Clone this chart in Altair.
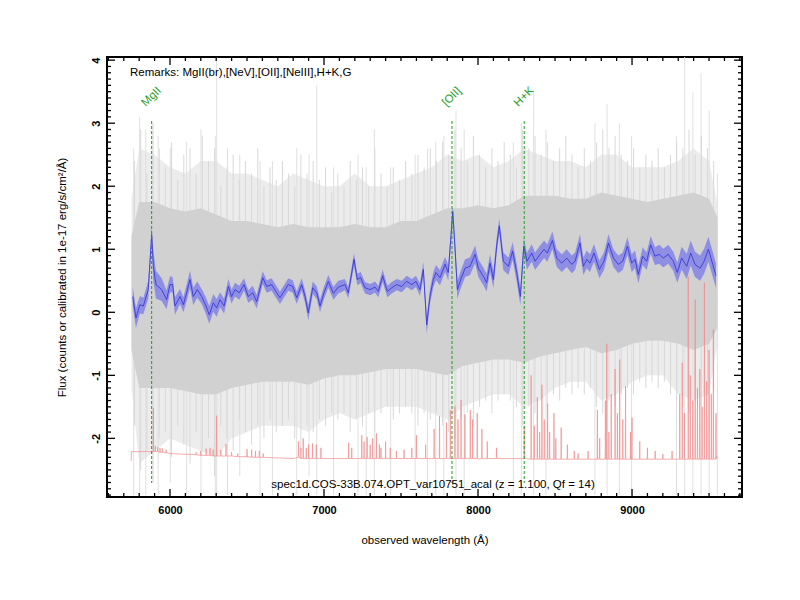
import altair as alt
import pandas as pd

# ---------------- data ----------------
# smoothed spectrum (blue line) and its 1-sigma band half-width
blue_wave = [
    5758, 5779, 5805, 5827, 5859, 5881, 5892, 5909, 5946, 5978,
    6000, 6017, 6032, 6065, 6087, 6108, 6130, 6151, 6177, 6206,
    6234, 6255, 6281, 6303, 6325, 6351, 6379, 6400, 6422, 6450,
    6481, 6508, 6537, 6563, 6602, 6628, 6660, 6688, 6714, 6740,
    6768, 6797, 6823, 6855, 6877, 6898, 6927, 6953, 6974, 7000,
    7028, 7061, 7093, 7136, 7158, 7195, 7216, 7238, 7266, 7299,
    7331, 7353, 7381, 7411, 7440, 7472, 7505, 7537, 7570, 7597,
    7623, 7645, 7667, 7688, 7710, 7727, 7753, 7786, 7807, 7836,
    7851, 7866, 7888, 7916, 7948, 7981, 8002, 8035, 8056, 8078,
    8100, 8121, 8138, 8164, 8197, 8225, 8251, 8275, 8297, 8318,
    8349, 8370, 8403, 8429, 8450, 8483, 8511, 8544, 8576, 8609,
    8630, 8662, 8684, 8706, 8727, 8753, 8788, 8818, 8847, 8879,
    8911, 8940, 8970, 8998, 9019, 9041, 9069, 9095, 9121, 9149,
    9177, 9203, 9235, 9268, 9294, 9322, 9355, 9381, 9409, 9442,
    9468, 9496, 9524, 9545]
blue_flux = [
    0.25, -0.09, 0.12, 0.10, 0.36, 1.23, 0.73, 0.44, 0.36, 0.20,
    0.44, 0.44, 0.10, 0.25, 0.12, 0.31, 0.52, 0.25, 0.36, 0.25,
    0.10, -0.04, 0.15, 0.07, 0.20, 0.10, 0.41, 0.25, 0.36, 0.31,
    0.44, 0.25, 0.31, 0.17, 0.55, 0.41, 0.44, 0.33, 0.23, 0.33,
    0.44, 0.41, 0.23, 0.44, 0.25, -0.01, 0.39, 0.31, 0.10, 0.31,
    0.49, 0.30, 0.40, 0.44, 0.31, 0.84, 0.52, 0.55, 0.39, 0.36,
    0.40, 0.33, 0.58, 0.33, 0.39, 0.44, 0.41, 0.49, 0.44, 0.49,
    0.36, 0.68, -0.20, 0.25, 0.52, 0.63, 0.55, 0.76, 0.63, 1.60,
    1.00, 0.36, 0.52, 0.70, 0.73, 0.92, 0.70, 0.57, 0.47, 0.78,
    0.52, 1.05, 1.37, 0.81, 0.73, 0.97, 0.63, 0.25, 1.05, 0.81,
    0.94, 0.81, 0.92, 1.00, 0.94, 1.14, 0.86, 0.78, 0.86, 0.76,
    0.81, 1.10, 0.73, 0.84, 0.78, 0.94, 0.68, 0.81, 1.10, 0.86,
    0.76, 0.81, 1.05, 0.78, 0.84, 0.60, 0.89, 0.81, 1.07, 0.89,
    0.92, 0.86, 0.92, 0.81, 0.63, 0.86, 0.73, 0.94, 0.76, 0.70,
    0.81, 1.00, 0.76, 0.58]
blue_err = [
    0.15, 0.16, 0.14, 0.13, 0.14, 0.12, 0.25, 0.22, 0.18, 0.15,
    0.13, 0.12, 0.14, 0.12, 0.12, 0.13, 0.14, 0.14, 0.13, 0.12,
    0.13, 0.14, 0.14, 0.14, 0.12, 0.12, 0.12, 0.11, 0.11, 0.11,
    0.10, 0.10, 0.11, 0.11, 0.10, 0.10, 0.10, 0.10, 0.10, 0.10,
    0.10, 0.10, 0.10, 0.10, 0.10, 0.12, 0.10, 0.10, 0.10, 0.10,
    0.10, 0.10, 0.10, 0.09, 0.09, 0.10, 0.09, 0.09, 0.09, 0.09,
    0.09, 0.09, 0.10, 0.09, 0.09, 0.09, 0.09, 0.09, 0.09, 0.09,
    0.10, 0.12, 0.14, 0.12, 0.12, 0.12, 0.12, 0.12, 0.12, 0.10,
    0.15, 0.14, 0.14, 0.14, 0.14, 0.14, 0.14, 0.14, 0.14, 0.14,
    0.14, 0.12, 0.12, 0.14, 0.14, 0.14, 0.14, 0.14, 0.13, 0.13,
    0.14, 0.14, 0.14, 0.14, 0.14, 0.14, 0.14, 0.14, 0.14, 0.14,
    0.14, 0.14, 0.14, 0.14, 0.14, 0.14, 0.14, 0.14, 0.14, 0.14,
    0.14, 0.14, 0.14, 0.14, 0.14, 0.14, 0.14, 0.14, 0.14, 0.14,
    0.15, 0.15, 0.15, 0.15, 0.16, 0.18, 0.20, 0.20, 0.20, 0.20,
    0.20, 0.20, 0.20, 0.20]

# raw spectrum noise envelopes (grey): outer (light) and dense (darker)
grey_wave = [5750, 5800, 5900, 6000, 6100, 6200, 6300, 6400, 6500, 6600,
             6700, 6800, 6900, 7000, 7100, 7200, 7300, 7400, 7500, 7600,
             7700, 7800, 7900, 8000, 8100, 8200, 8300, 8400, 8500, 8600,
             8700, 8800, 8900, 9000, 9100, 9200, 9300, 9400, 9500, 9555]
grey_out_lo = [-1.2, -2.4, -2.2, -2.0, -2.1, -2.2, -2.3, -2.0, -1.9, -1.8,
               -1.8, -1.8, -1.9, -1.7, -1.6, -1.7, -1.6, -1.5, -1.5, -1.5,
               -1.6, -1.7, -1.5, -1.4, -1.3, -1.3, -1.5, -1.4, -1.2, -1.1,
               -1.1, -1.4, -1.3, -1.1, -1.0, -1.0, -1.3, -1.4, -1.3, -0.5]
grey_out_hi = [1.8, 2.6, 2.5, 2.3, 2.2, 2.4, 2.4, 2.2, 2.2, 2.1,
               2.0, 2.2, 2.1, 2.0, 2.0, 2.2, 2.0, 2.0, 2.1, 2.2,
               2.3, 2.5, 2.4, 2.5, 2.3, 2.4, 2.6, 2.5, 2.4, 2.4,
               2.3, 2.5, 2.5, 2.3, 2.3, 2.3, 2.4, 2.6, 2.4, 1.7]
grey_in_lo = [-0.6, -1.2, -1.2, -1.2, -1.25, -1.3, -1.3, -1.2, -1.15, -1.1,
              -1.1, -1.1, -1.15, -1.05, -1.0, -1.0, -0.95, -0.9, -0.9, -0.9,
              -0.95, -1.0, -0.85, -0.8, -0.75, -0.75, -0.8, -0.7, -0.65, -0.6,
              -0.55, -0.65, -0.6, -0.5, -0.45, -0.45, -0.5, -0.6, -0.5, -0.25]
grey_in_hi = [1.2, 1.75, 1.75, 1.65, 1.6, 1.65, 1.55, 1.45, 1.45, 1.4,
              1.35, 1.4, 1.35, 1.35, 1.35, 1.4, 1.35, 1.35, 1.45, 1.45,
              1.55, 1.65, 1.65, 1.7, 1.65, 1.7, 1.85, 1.85, 1.85, 1.8,
              1.8, 1.9, 1.85, 1.8, 1.75, 1.8, 1.85, 1.9, 1.8, 1.5]

# raw-spectrum pixel excursions (grey hatching), read roughly every 40 A
hatch_wave = [5770, 5810, 5850, 5890, 5930, 5970, 6010, 6050, 6090, 6130,
              6170, 6210, 6250, 6290, 6330, 6370, 6410, 6450, 6490, 6530,
              6570, 6610, 6650, 6690, 6730, 6770, 6810, 6850, 6890, 6930,
              6970, 7010, 7050, 7090, 7130, 7170, 7210, 7250, 7290, 7330,
              7370, 7410, 7450, 7490, 7530, 7570, 7610, 7650, 7690, 7730,
              7770, 7810, 7850, 7890, 7930, 7970, 8010, 8050, 8090, 8130,
              8170, 8210, 8250, 8290, 8330, 8370, 8410, 8450, 8490, 8530,
              8570, 8610, 8650, 8690, 8730, 8770, 8810, 8850, 8890, 8930,
              8970, 9010, 9050, 9090, 9130, 9170, 9210, 9250, 9290, 9330,
              9370, 9410, 9450, 9490, 9530]
hatch_hi = [2.4, 2.9, 2.2, 3.0, 2.6, 2.3, 2.7, 2.1, 2.5, 2.6,
            2.2, 2.8, 2.4, 2.6, 2.0, 2.3, 2.5, 2.1, 2.4, 2.2,
            2.6, 2.0, 2.3, 2.1, 2.4, 2.2, 2.0, 2.5, 2.2, 2.4,
            2.1, 2.3, 1.9, 2.2, 2.0, 2.4, 2.1, 2.3, 2.0, 2.6,
            2.2, 2.0, 2.3, 2.1, 2.4, 2.2, 2.5, 2.3, 2.6, 2.4,
            2.7, 2.5, 2.9, 2.6, 2.4, 2.8, 2.5, 2.3, 2.6, 2.4,
            2.7, 2.5, 2.3, 2.9, 2.6, 2.8, 2.5, 2.7, 2.4, 2.6,
            2.8, 2.5, 2.3, 2.6, 2.4, 2.7, 2.9, 2.6, 2.8, 2.5,
            2.4, 2.6, 2.3, 2.5, 2.4, 2.6, 2.3, 2.5, 2.7, 2.6,
            2.9, 2.5, 2.8, 2.6, 2.4]
hatch_lo = [-1.8, -2.5, -2.2, -2.7, -2.0, -1.9, -2.3, -1.8, -2.1, -2.4,
            -1.9, -2.2, -2.0, -2.6, -1.8, -2.0, -2.2, -1.7, -1.9, -2.1,
            -1.8, -2.0, -1.7, -1.9, -1.8, -1.7, -2.0, -2.2, -1.8, -1.9,
            -1.7, -1.8, -1.6, -1.7, -1.6, -1.9, -1.7, -1.8, -1.6, -1.9,
            -1.6, -1.5, -1.7, -1.6, -1.5, -1.6, -1.8, -1.6, -1.7, -1.6,
            -1.8, -1.9, -2.0, -1.7, -1.6, -1.8, -1.5, -1.4, -1.6, -1.4,
            -1.3, -1.4, -1.5, -1.8, -1.5, -1.6, -1.4, -1.5, -1.3, -1.4,
            -1.2, -1.3, -1.2, -1.3, -1.2, -1.5, -1.6, -1.4, -1.5, -1.3,
            -1.2, -1.3, -1.1, -1.2, -1.1, -1.2, -1.1, -1.3, -1.4, -1.5,
            -1.6, -1.4, -1.5, -1.3, -1.2]

# individual tall grey residual spikes (sky-line residuals)
gspike_wave = [5764, 5803, 5843, 5923, 6002, 6108, 6201, 6294, 6303, 6373,
               6453, 6585, 6665, 6823, 6903, 6953, 7062, 7221, 7274, 7327,
               7433, 7592, 7672, 7725, 7778, 7857, 7910, 8229, 8281, 8361,
               8441, 8759, 8838, 8918, 8997, 9289, 9342, 9395, 9448, 9501, 9554]
gspike_lo = [-2.9, -2.9, -2.9, -2.9, -2.7, -2.9, -2.9, -2.9, -2.9, -2.9,
             -2.6, -2.9, -2.9, -2.9, -2.6, -2.9, -2.9, -2.9, -2.9, -2.9,
             -2.9, -2.7, -2.9, -2.9, -2.9, -2.9, -2.9, -2.9, -2.9, -2.9,
             -2.9, -2.9, -2.9, -2.9, -2.9, -2.9, -2.9, -2.9, -2.9, -2.9, -2.9]
gspike_hi = [2.6, 3.1, 2.9, 2.8, 2.6, 2.7, 2.9, 2.8, 4.05, 2.6,
             2.5, 2.4, 2.4, 2.6, 2.5, 3.6, 2.3, 2.5, 2.3, 2.9,
             2.3, 2.5, 2.6, 2.7, 2.8, 3.2, 2.9, 2.7, 3.0, 3.5,
             2.9, 3.0, 3.3, 3.0, 2.8, 2.8, 4.05, 3.5, 3.8, 3.2, 2.2]

# sky spectrum (red): continuum points and emission lines (peak, foot)
sky_base_wave = [5748, 5750, 5880, 6000, 6200, 6500, 6800, 7000, 8000, 9000, 9540, 9553]
sky_base_flux = [-2.36, -2.21, -2.21, -2.24, -2.27, -2.30, -2.32, -2.32, -2.33, -2.33, -2.33, -2.28]
sky_line_wave = [5892, 5905, 5920, 5935, 5950, 5975, 6170, 6200, 6235, 6260,
                 6280, 6303, 6330, 6364, 6400, 6440, 6500, 6530, 6555, 6580,
                 6605, 6835, 6850, 6865, 6885, 6900, 6925, 6950, 6980, 7160,
                 7180, 7245, 7260, 7280, 7300, 7316, 7340, 7360, 7370, 7400,
                 7430, 7470, 7520, 7570, 7600, 7660, 7715, 7750, 7795, 7820,
                 7850, 7870, 7890, 7915, 7950, 7965, 7995, 8025, 8060, 8120,
                 8300, 8345, 8365, 8385, 8400, 8415, 8430, 8452, 8465, 8493,
                 8505, 8540, 8580, 8625, 8650, 8715, 8775, 8790, 8827, 8836,
                 8850, 8865, 8890, 8905, 8920, 8940, 8958, 8990, 9000, 9050,
                 9100, 9150, 9200, 9260, 9310, 9326, 9340, 9365, 9378, 9395,
                 9410, 9425, 9440, 9455, 9470, 9485, 9500, 9515, 9528, 9545]
sky_line_peak = [-1.52, -2.12, -2.14, -2.15, -2.16, -2.18, -2.22, -2.20, -2.16, -2.15,
                 -2.18, -1.64, -2.18, -2.09, -2.22, -2.24, -2.17, -2.18, -2.20, -2.20,
                 -2.24, -2.05, -2.15, -2.00, -2.15, -2.10, -2.08, -2.10, -2.15, -2.07,
                 -2.15, -1.95, -2.05, -1.98, -2.10, -2.00, -1.92, -2.10, -2.15, -2.05,
                 -2.15, -2.20, -2.18, -2.15, -1.95, -2.10, -1.85, -1.65, -1.75, -1.55,
                 -1.49, -1.70, -1.39, -1.62, -1.55, -1.70, -1.60, -1.85, -2.05, -2.15,
                 -1.80, -1.00, -1.80, -1.35, -1.90, -1.15, -1.70, -1.45, -1.90, -1.60,
                 -2.00, -1.83, -2.10, -2.20, -2.24, -2.20, -1.55, -2.00, -1.40, -0.50,
                 -1.90, -1.30, -0.90, -1.60, -0.75, -1.70, -1.17, -1.90, -1.67, -2.05,
                 -2.15, -2.20, -2.25, -2.20, -1.30, -0.80, -1.60, 0.57, -1.00, -1.40,
                 0.20, -1.20, -0.90, -1.50, 0.47, -1.10, -0.60, -1.30, -0.27, -1.60]
sky_line_foot = ([-2.21] * 3 + [-2.22] * 2 + [-2.23] + [-2.26] + [-2.27] * 3
                 + [-2.28] * 5 + [-2.29] * 2 + [-2.30] * 5
                 + [-2.32] * 39 + [-2.33] * 50)

# identified lines
line_wave = [5881, 7831, 8300]
line_name = ["MgII", "[OII]", "H+K"]

remark_text = "Remarks: MgII(br),[NeV],[OII],[NeIII],H+K,G"
object_text = "spec1d.COS-33B.074.OPT_var10751_acal (z = 1.100, Qf = 14)"

x_major = [6000, 7000, 8000, 9000]
x_minor = [w for w in range(5600, 9701, 100) if w % 1000 != 0]
y_major = [-2, -1, 0, 1, 2, 3, 4]
y_minor = [round(-2.9 + 0.1 * i, 1) for i in range(70) if round(-2.9 + 0.1 * i, 1) % 1 != 0]

# ---------------- build tables ----------------
W, H = 635, 440
FONT = "Liberation Sans"
GREEN = "#1e9e1e"

blue_df = pd.DataFrame({"wave": blue_wave, "flux": blue_flux, "err": blue_err})
blue_df["lo"] = blue_df["flux"] - blue_df["err"]
blue_df["hi"] = blue_df["flux"] + blue_df["err"]

grey_df = pd.DataFrame({"wave": grey_wave, "olo": grey_out_lo, "ohi": grey_out_hi,
                        "ilo": grey_in_lo, "ihi": grey_in_hi})
gsp_df = pd.DataFrame({"wave": gspike_wave, "lo": gspike_lo, "hi": gspike_hi})
hatch_df = pd.DataFrame({"wave": hatch_wave, "lo": hatch_lo, "hi": hatch_hi})

rows = [(w, f) for w, f in zip(sky_base_wave, sky_base_flux)]
for w, p, f in zip(sky_line_wave, sky_line_peak, sky_line_foot):
    rows += [(w - 1.5, f), (w, p), (w + 1.5, f)]
sky_df = pd.DataFrame(rows, columns=["wave", "flux"]).sort_values("wave").reset_index(drop=True)
sky_df["order"] = range(len(sky_df))

lines_df = pd.DataFrame({"wave": line_wave, "name": line_name})

xs = alt.Scale(domain=[5591, 9714], nice=False, zero=False)
ys = alt.Scale(domain=[-2.93, 4.05], nice=False, zero=False)

xaxis = alt.Axis(values=x_major, labelExpr="'' + datum.value", ticks=False, domain=False,
                 grid=False, labelFont=FONT, labelFontWeight="bold", labelFontSize=11,
                 labelColor="black", labelPadding=7, title="observed wavelength (Å)",
                 titleFont=FONT, titleFontWeight="normal", titleFontSize=11.5,
                 titleColor="black", titleY=43, titleBaseline="middle")
yaxis = alt.Axis(values=y_major, labelExpr="'' + datum.value", ticks=False, domain=False,
                 grid=False, labelFont=FONT, labelFontWeight="bold", labelFontSize=11,
                 labelColor="black", labelAngle=270, labelAlign="center",
                 labelBaseline="bottom", labelPadding=6,
                 title="Flux (counts or calibrated in 1e-17 erg/s/cm²/Å)",
                 titleFont=FONT, titleFontWeight="normal", titleFontSize=11.5,
                 titleColor="black", titleAngle=270, titleX=-45, titleY=H / 2,
                 titleAlign="center", titleBaseline="middle")


def X(f):
    return alt.X(f, type="quantitative", scale=xs, axis=xaxis)


def Y(f):
    return alt.Y(f, type="quantitative", scale=ys, axis=yaxis)


outer = alt.Chart(grey_df).mark_area(color="#ececec").encode(
    x=X("wave"), y=Y("olo"), y2="ohi")
gspikes = alt.Chart(gsp_df).mark_rule(color="#e0e0e0", strokeWidth=1).encode(
    x=X("wave"), y=Y("lo"), y2="hi")
hatch = alt.Chart(hatch_df).mark_rule(color="#d8d8d8", strokeWidth=1).encode(
    x=X("wave"), y=Y("lo"), y2="hi")
inner = alt.Chart(grey_df).mark_area(color="#d1d1d1").encode(
    x=X("wave"), y=Y("ilo"), y2="ihi")
sky = alt.Chart(sky_df).mark_line(color="#f08c8c", strokeWidth=0.7).encode(
    x=X("wave"), y=Y("flux"), order="order:Q")
band = alt.Chart(blue_df).mark_area(color="#8383e6", opacity=0.85).encode(
    x=X("wave"), y=Y("lo"), y2="hi")
bline = alt.Chart(blue_df).mark_line(color="#3030d8", strokeWidth=0.8).encode(
    x=X("wave"), y=Y("flux"))
vlines = alt.Chart(lines_df).mark_rule(color=GREEN, strokeWidth=1, strokeDash=[3, 2]).encode(
    x=X("wave"), y=alt.value(64), y2=alt.value(426))
vlabels = alt.Chart(lines_df).mark_text(color=GREEN, font=FONT, fontSize=11.5, angle=315,
                                        align="center", baseline="middle").encode(
    x=X("wave"), y=alt.value(40), text="name:N")
remark = alt.Chart(pd.DataFrame({"t": [remark_text]})).mark_text(
    font=FONT, fontSize=11.5, align="left", baseline="middle", color="black").encode(
    x=alt.value(23), y=alt.value(16), text="t:N")
objtxt = alt.Chart(pd.DataFrame({"t": [object_text]})).mark_text(
    font=FONT, fontSize=11.5, align="center", baseline="middle", color="black").encode(
    x=alt.value(326), y=alt.value(428), text="t:N")


def ticks_x(vals, length, side):
    y0, y1 = (H, H - length) if side == "bottom" else (0, length)
    return alt.Chart(pd.DataFrame({"v": vals})).mark_rule(color="black", strokeWidth=1.3).encode(
        x=X("v"), y=alt.value(y0), y2=alt.value(y1))


def ticks_y(vals, length, side):
    x0, x1 = (0, length) if side == "left" else (W, W - length)
    return alt.Chart(pd.DataFrame({"v": vals})).mark_rule(color="black", strokeWidth=1.3).encode(
        y=Y("v"), x=alt.value(x0), x2=alt.value(x1))


tick_layers = [
    ticks_x(x_major, 8, "bottom"), ticks_x(x_minor, 4, "bottom"),
    ticks_x(x_major, 8, "top"), ticks_x(x_minor, 4, "top"),
    ticks_y(y_major, 8, "left"), ticks_y(y_minor, 4, "left"),
    ticks_y(y_major, 8, "right"), ticks_y(y_minor, 4, "right"),
]

chart = alt.layer(
    outer, gspikes, hatch, inner, sky, band, bline, vlines, vlabels, remark, objtxt,
    *tick_layers
).properties(
    width=W, height=H,
    autosize=alt.AutoSizeParams(type="none"),
    padding={"left": 99, "top": 49, "right": 50, "bottom": 95},
    background="white",
).configure_view(
    stroke="black", strokeWidth=2
)

chart.save("out.html", embed_options={"renderer": "svg", "actions": False})
